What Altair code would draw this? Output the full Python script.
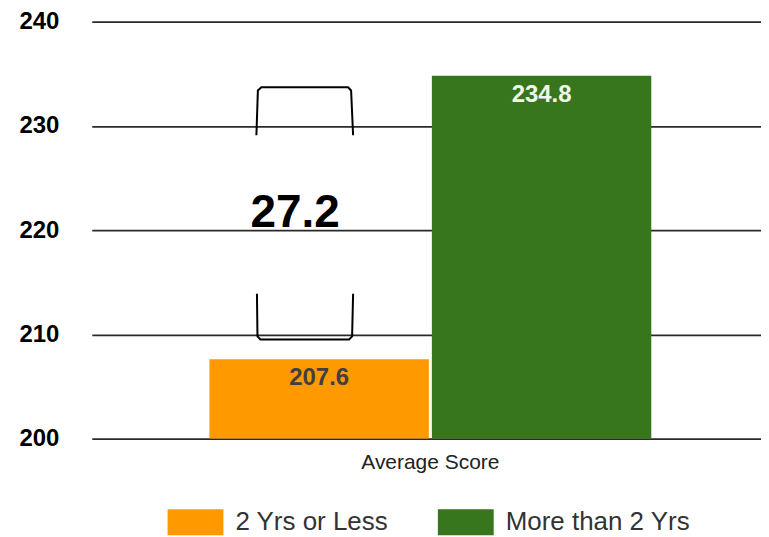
import altair as alt
import pandas as pd

# ---- data ----
groups = ["Average Score", "Average Score"]
series = ["2 Yrs or Less", "More than 2 Yrs"]
scores = [207.6, 234.8]
bar_colors = ["#ff9900", "#38761d"]
label_colors = ["#404040", "#eef7e9"]
y_ticks = [200, 210, 220, 230, 240]

# gap annotation (difference between the two bars)
gap_text = ["27.2"]
gap_x = [0.304]          # fraction of plot width
gap_y = [220.3]          # score units (baseline)

bracket_part = ["upper"] * 6 + ["lower"] * 6
bracket_order = list(range(6)) * 2
bracket_x = [0.2460, 0.2482, 0.2534, 0.3830, 0.3875, 0.3905,
             0.2468, 0.2476, 0.2520, 0.3845, 0.3890, 0.3905]
bracket_y = [229.1, 233.4, 233.7, 233.7, 233.4, 229.1,
             213.9, 209.8, 209.5, 209.5, 209.8, 213.9]

FONT = "Liberation Sans"

df = pd.DataFrame({
    "group": groups,
    "series": series,
    "score": scores,
    "label": [f"{v:.1f}" for v in scores],
    "label_color": label_colors,
})
br_df = pd.DataFrame({"part": bracket_part, "order": bracket_order,
                      "bx": bracket_x, "by": bracket_y})
gap_df = pd.DataFrame({"t": gap_text, "tx": gap_x, "ty": gap_y})

yscale = alt.Scale(domain=[200, 240], zero=False, nice=False)
xband = alt.Scale(paddingInner=0, paddingOuter=0.2573, align=0.5175)
xoff = alt.Scale(paddingInner=0.0135, paddingOuter=0)

bars = alt.Chart(df).mark_bar().encode(
    x=alt.X("group:N", scale=xband,
            axis=alt.Axis(title=None, labelAngle=0, domain=False, ticks=False,
                          labelFontSize=21, labelColor="#222222", labelPadding=13,
                          labelFont=FONT, grid=False)),
    xOffset=alt.XOffset("series:N", scale=xoff, sort=series),
    y=alt.Y("score:Q", scale=yscale,
            axis=alt.Axis(values=y_ticks, title=None, ticks=False, domain=False,
                          labelFontSize=24, labelFontWeight="bold", labelColor="#000000",
                          labelPadding=33, labelFont=FONT, grid=True,
                          gridColor="#2a2a2a", gridWidth=1.8)),
    y2=alt.datum(200),
    color=alt.Color("series:N", scale=alt.Scale(domain=series, range=bar_colors),
                    legend=alt.Legend(title=None, orient="none", legendX=76, legendY=489,
                                      direction="horizontal",
                                      symbolType="M-2.154,-1H2.154V1H-2.154Z",
                                      symbolSize=676, symbolStrokeWidth=0,
                                      symbolOffset=15, labelOffset=27,
                                      labelFontSize=26, labelColor="#333333",
                                      labelFont=FONT, labelLimit=400,
                                      columnPadding=48, padding=0)),
)

bar_labels = alt.Chart(df).mark_text(
    fontSize=24, fontWeight="bold", baseline="alphabetic", dy=26, font=FONT
).encode(
    x=alt.X("group:N", scale=xband),
    xOffset=alt.XOffset("series:N", scale=xoff, sort=series),
    y=alt.Y("score:Q", scale=yscale),
    text="label:N",
    color=alt.Color("label_color:N", scale=None),
)

bracket = alt.Chart(br_df).mark_line(color="black", strokeWidth=2).encode(
    x=alt.X("bx:Q", scale=alt.Scale(domain=[0, 1], nice=False, zero=False), axis=None),
    y=alt.Y("by:Q", scale=yscale),
    detail="part:N",
    order="order:Q",
)

gap = alt.Chart(gap_df).mark_text(
    fontSize=46, fontWeight="bold", baseline="alphabetic", font=FONT, color="black"
).encode(
    x=alt.X("tx:Q", scale=alt.Scale(domain=[0, 1], nice=False, zero=False), axis=None),
    y=alt.Y("ty:Q", scale=yscale),
    text="t:N",
)

bar_layer = alt.layer(bars, bar_labels)
ann_layer = alt.layer(bracket, gap)

chart = alt.layer(bar_layer, ann_layer).resolve_scale(x="independent").properties(
    width=671, height=418,
    padding={"left": 10, "top": 1, "right": 0, "bottom": 0},
).configure_view(stroke=None)

chart.save("out.html", embed_options={"renderer": "svg", "actions": False})
